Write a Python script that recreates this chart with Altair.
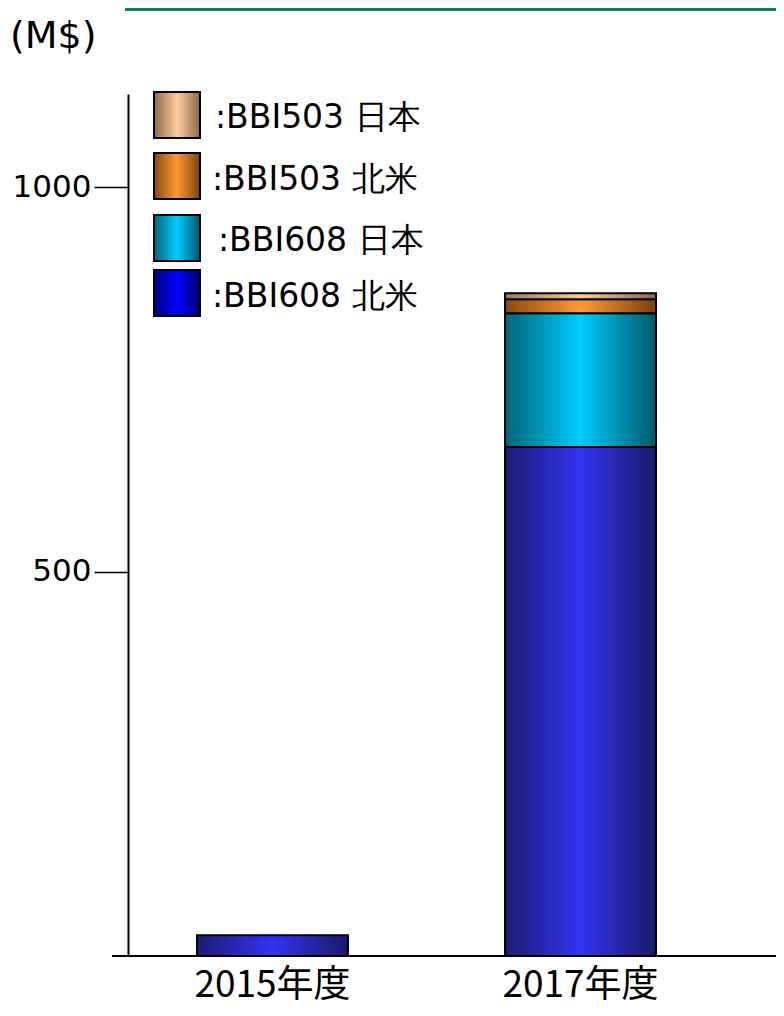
import altair as alt
import pandas as pd

# ---- data ----
years = ["2015年度", "2017年度"]
series = ["BBI608 北米", "BBI608 日本", "BBI503 北米", "BBI503 日本"]
bbi608_na = [27, 662]
bbi608_jp = [0, 174]
bbi503_na = [0, 18]
bbi503_jp = [0, 8]
legend_labels = [":BBI503 日本", ":BBI503 北米", ":BBI608 日本", ":BBI608 北米"]
y_ticks = [500, 1000]
unit_label = "(M$)"

# ---- build stacked table ----
rows = []
for i, yr in enumerate(years):
    base = 0
    for s, vals in zip(series, [bbi608_na, bbi608_jp, bbi503_na, bbi503_jp]):
        v = vals[i]
        if v > 0:
            rows.append(dict(year=yr, series=s, y0=base, y1=base + v))
        base += v
df = pd.DataFrame(rows)


def grad(edge_l, center, edge_r):
    return alt.LinearGradient(
        gradient="linear",
        stops=[
            alt.GradientStop(color=edge_l, offset=0),
            alt.GradientStop(color=center, offset=0.5),
            alt.GradientStop(color=edge_r, offset=1),
        ],
        x1=0, x2=1, y1=0, y2=0,
    )


bar_grads = {
    "BBI608 北米": grad("#1c1c72", "#3333f5", "#1a1a68"),
    "BBI608 日本": grad("#006478", "#00ccff", "#005868"),
    "BBI503 北米": grad("#8a4a12", "#ff9a35", "#7a4010"),
    "BBI503 日本": grad("#9a7a5c", "#ffcc99", "#8a6a50"),
}
legend_grads = [
    grad("#8a6a50", "#ffcc99", "#8a6a50"),
    grad("#8a4a12", "#ff9933", "#7a4010"),
    grad("#006478", "#00ccff", "#005868"),
    grad("#000080", "#0000ff", "#000070"),
]

W, H = 648, 862
TOP = 86
xscale = alt.Scale(domain=years, paddingInner=0.51, paddingOuter=0.3068, align=0.365)
yscale = alt.Scale(domain=[0, 1121], nice=False, zero=True)
xaxis = alt.Axis(domain=False, ticks=False, labelAngle=0, labelFontSize=37,
                 labelFont="Noto Sans CJK JP", labelColor="black", labelPadding=11,
                 title=None, grid=False)
yaxis = alt.Axis(values=y_ticks, format="d", tickSize=34, tickWidth=1.5, tickColor="black",
                 domainColor="black", domainWidth=2, labelFontSize=31,
                 labelFont="DejaVu Sans", labelColor="black", labelPadding=3,
                 grid=False, title=None)

layers = []
for s in series:
    layers.append(
        alt.Chart(df)
        .transform_filter(alt.datum.series == s)
        .mark_bar(fill=bar_grads[s], stroke="black", strokeWidth=2)
        .encode(
            x=alt.X("year:N", scale=xscale, axis=xaxis, sort=years),
            y=alt.Y("y1:Q", scale=yscale, axis=yaxis),
            y2="y0:Q",
        )
    )

one = alt.Data(values=[{}])

# baseline
layers.append(
    alt.Chart(one).mark_rule(color="black", strokeWidth=2).encode(
        x=alt.value(-16), x2=alt.value(W), y=alt.value(H)
    )
)

# green band at top
layers.append(
    alt.Chart(one).mark_rect(color="#0b8360").encode(
        x=alt.value(-3), x2=alt.value(W), y=alt.value(-TOP), y2=alt.value(-TOP + 3)
    )
)

# unit label
layers.append(
    alt.Chart(one).mark_text(align="left", baseline="middle", fontSize=38,
                             font="DejaVu Sans", color="black").encode(
        x=alt.value(-118), y=alt.value(-57), text=alt.value(unit_label)
    )
)

# custom legend
sw_top = [-2, 59, 121, 176]
tx = [87, 84, 90, 84]
ty = [24, 86, 147, 203]
for i, lab in enumerate(legend_labels):
    layers.append(
        alt.Chart(one).mark_rect(fill=legend_grads[i], stroke="black", strokeWidth=2).encode(
            x=alt.value(26), x2=alt.value(72), y=alt.value(sw_top[i]), y2=alt.value(sw_top[i] + 46)
        )
    )
    layers.append(
        alt.Chart(one).mark_text(align="left", baseline="middle", fontSize=33,
                                 font="DejaVu Sans", color="black").encode(
            x=alt.value(tx[i]), y=alt.value(ty[i]), text=alt.value(lab)
        )
    )

chart = (
    alt.layer(*layers)
    .properties(width=W, height=H,
                autosize=alt.AutoSizeParams(type="none"),
                padding={"left": 120, "top": TOP, "right": 0, "bottom": 52},
                background="white")
    .configure_view(stroke=None)
)

chart.save("out.html", embed_options={"renderer": "svg", "actions": False})
